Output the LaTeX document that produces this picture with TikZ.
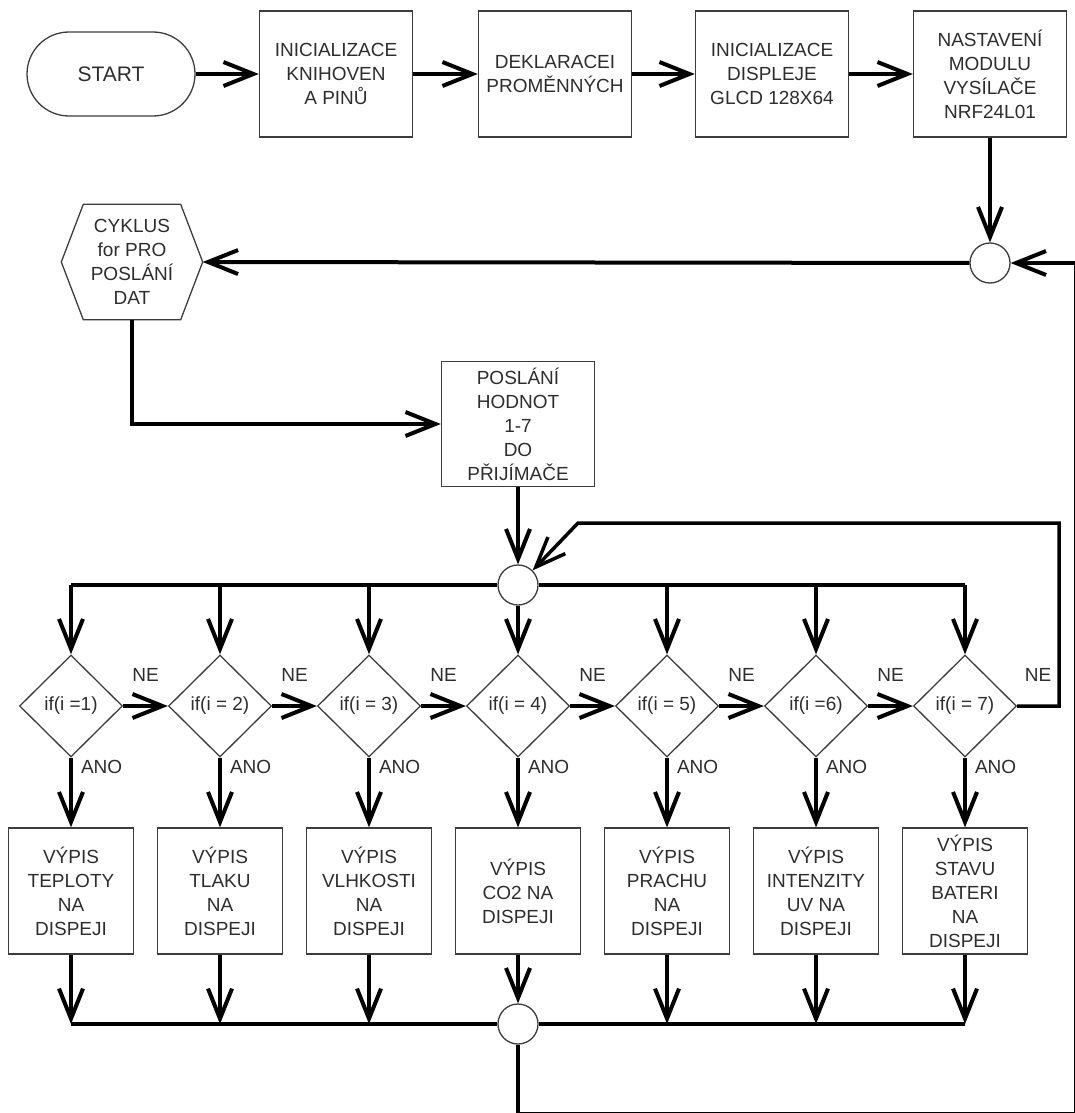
\documentclass[tikz,border=0pt]{standalone}
\usepackage{fontspec}
\setmainfont{Liberation Sans}
\usepackage{tikz}
\usetikzlibrary{arrows.meta,shapes.geometric,calc}
\definecolor{ink}{RGB}{45,45,45}
\definecolor{frame}{RGB}{60,60,60}
\newcommand{\boxfont}{\fontsize{19}{24}\selectfont}
\newcommand{\startfont}{\fontsize{21}{24}\selectfont}
\tikzset{
  txt/.style={align=center,font=\boxfont,text=ink,inner sep=0pt},
  edge/.style={draw=frame,line width=1.3pt},
  blk/.style={txt,edge,rectangle,minimum width=153pt,minimum height=126pt},
  vyp/.style={txt,edge,rectangle,minimum width=125pt,minimum height=126pt},
  term/.style={txt,edge,rectangle,rounded corners=42pt,minimum width=168pt,minimum height=84pt,font=\startfont},
  dec/.style={txt,edge,diamond,minimum width=103pt,minimum height=102pt},
  jn/.style={edge,circle,minimum size=40pt,inner sep=0pt},
  flow/.style={-{Straight Barb[length=30pt,width=24pt]},line width=4pt},
  bus/.style={line width=4pt},
  lbl/.style={font=\boxfont,text=ink,inner sep=0pt},
}
\begin{document}
\begin{tikzpicture}[x=1pt,y=-1pt]
  \useasboundingbox (0,0) rectangle (1075,1113);
  \clip (0,0) rectangle (1075,1113);
  % top row
  \node[term] (start) at (111,74) {START};
  \node[blk] (b1) at (336,74) {INICIALIZACE\\KNIHOVEN\\A PINŮ};
  \node[blk] (b2) at (555,74) {DEKLARACEI\\PROMĚNNÝCH};
  \node[blk] (b3) at (772,74) {INICIALIZACE\\DISPLEJE\\GLCD 128X64};
  \node[blk] (b4) at (990,74) {NASTAVENÍ\\MODULU\\VYSÍLAČE\\NRF24L01};
  \draw[flow] (start) -- (b1);
  \draw[flow] (b1) -- (b2);
  \draw[flow] (b2) -- (b3);
  \draw[flow] (b3) -- (b4);
  % for loop
  \node[jn] (c1) at (990,263) {};
  \node[txt,minimum width=141pt,minimum height=115pt] (cyk) at (132,262) {CYKLUS\\for PRO\\POSLÁNÍ\\DAT};
  \draw[edge] (cyk.west) -- ([xshift=22pt]cyk.north west) -- ([xshift=-22pt]cyk.north east)
    -- (cyk.east) -- ([xshift=-22pt]cyk.south east) -- ([xshift=22pt]cyk.south west) -- cycle;
  \draw[flow] (b4) -- (c1);
  \draw[flow] (c1) -- (cyk.east);
  \node[blk,minimum height=125pt] (posl) at (518,424) {POSLÁNÍ\\HODNOT\\1-7\\DO\\PŘIJÍMAČE};
  \draw[flow] (cyk.south) |- (posl.west);
  \node[jn] (c2) at (518,585) {};
  \draw[flow] (posl) -- (c2);
  % tests and outputs
  \foreach \k/\cond/\txt in {
      1/{if(i =1)}/{VÝPIS\\TEPLOTY\\NA\\DISPEJI},
      2/{if(i = 2)}/{VÝPIS\\TLAKU\\NA\\DISPEJI},
      3/{if(i = 3)}/{VÝPIS\\VLHKOSTI\\NA\\DISPEJI},
      4/{if(i = 4)}/{VÝPIS\\CO2 NA\\DISPEJI},
      5/{if(i = 5)}/{VÝPIS\\PRACHU\\NA\\DISPEJI},
      6/{if(i =6)}/{VÝPIS\\INTENZITY\\UV NA\\DISPEJI},
      7/{if(i = 7)}/{VÝPIS\\STAVU\\BATERI\\NA\\DISPEJI}} {
    \pgfmathsetmacro\xx{71+149*(\k-1)}
    \node[dec] (d\k) at (\xx,706) {\makebox[0pt]{\cond}};
    \node[vyp] (v\k) at (\xx,891) {\txt};
    \draw[flow] (d\k.south) -- (v\k.north) node[lbl,pos=0.13,anchor=west,xshift=8pt] {ANO};
  }
  \node[jn] (c3) at (518,1024) {};
  \draw[bus] (c2.west) -- (d1.north |- c2);
  \draw[bus] (c2.east) -- (d7.north |- c2);
  \draw[bus] (c3.west) -- (v1.south |- c3);
  \draw[bus] (c3.east) -- (v7.south |- c3);
  \foreach \k in {1,2,3,5,6,7} {
    \draw[flow] (d\k.north |- c2) -- (d\k.north);
    \draw[flow] (v\k.south) -- (v\k.south |- c3);
  }
  \draw[flow] (c2) -- (d4.north);
  \draw[flow] (v4) -- (c3);
  \foreach \k [evaluate=\k as \n using int(\k+1)] in {1,...,6}
    \draw[flow] (d\k.east) -- (d\n.west) node[lbl,midway,yshift=31pt] {NE};
  % back to the tests
  \coordinate (ne) at (1059,706);
  \coordinate (top) at (1059,523);
  \coordinate (topl) at (578,523);
  \draw[flow,line width=3.5pt] (d7.east) -- (ne) node[lbl,midway,yshift=31pt] {NE}
    -- (top) -- (topl) -- (c2.north east);
  % back to the loop
  \coordinate (lpa) at (518,1114);
  \coordinate (lpb) at (1076,1114);
  \coordinate (lpc) at (1076,263);
  \draw[flow] (c3) -- (lpa) -- (lpb) -- (lpc) -- (c1);
\end{tikzpicture}
\end{document}
